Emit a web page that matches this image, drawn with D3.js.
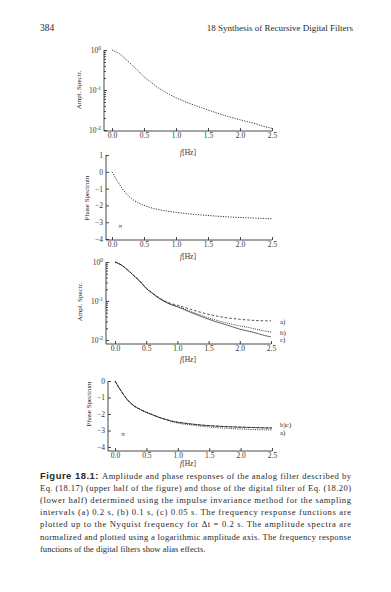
<!DOCTYPE html>
<html><head><meta charset="utf-8">
<script src="https://cdn.jsdelivr.net/npm/d3@7"></script>
<style>
html,body{margin:0;padding:0;background:#fff;}
svg{display:block;}
text{font-family:"Liberation Serif","DejaVu Serif",serif;fill:#2a2a2a;}
.axis path,.axis line{stroke:#333;stroke-width:0.9;fill:none;}
.axis text{font-family:"Liberation Serif",serif;font-size:7.5px;fill:#333;}
</style></head>
<body>
<script>
// ---------------- data ----------------
const freq = [0, 0.1, 0.2, 0.3, 0.4, 0.5, 0.6, 0.7, 0.8, 0.9, 1.0, 1.2, 1.4, 1.6, 1.8, 2.0, 2.2, 2.4, 2.5];
const analogAmp   = [1.0, 0.84, 0.62, 0.44, 0.31, 0.215, 0.16, 0.12, 0.095, 0.077, 0.064, 0.047, 0.036, 0.028, 0.022, 0.018, 0.015, 0.012, 0.011];
const analogPhase = [0, -0.65, -1.2, -1.58, -1.83, -2.0, -2.13, -2.23, -2.3, -2.36, -2.41, -2.5, -2.57, -2.63, -2.68, -2.72, -2.75, -2.78, -2.8];
const digAmpA = [1.0, 0.84, 0.63, 0.45, 0.32, 0.215, 0.16, 0.123, 0.1, 0.086, 0.078, 0.062, 0.05, 0.042, 0.037, 0.034, 0.032, 0.031, 0.031];
const digAmpB = [1.0, 0.84, 0.63, 0.45, 0.32, 0.21, 0.158, 0.12, 0.097, 0.082, 0.073, 0.055, 0.042, 0.033, 0.027, 0.023, 0.02, 0.017, 0.016];
const digAmpC = [1.0, 0.84, 0.63, 0.45, 0.32, 0.21, 0.157, 0.119, 0.096, 0.08, 0.071, 0.052, 0.039, 0.03, 0.024, 0.019, 0.016, 0.013, 0.012];
const digPhaseA = [0, -0.62, -1.15, -1.5, -1.72, -1.9, -2.05, -2.2, -2.33, -2.45, -2.55, -2.66, -2.75, -2.82, -2.87, -2.91, -2.94, -2.96, -2.97];
const digPhaseB = [0, -0.62, -1.15, -1.5, -1.72, -1.9, -2.05, -2.2, -2.32, -2.43, -2.5, -2.6, -2.68, -2.73, -2.77, -2.8, -2.82, -2.84, -2.85];
const digPhaseC = [0, -0.62, -1.15, -1.5, -1.72, -1.9, -2.05, -2.2, -2.32, -2.43, -2.5, -2.6, -2.68, -2.73, -2.77, -2.8, -2.82, -2.84, -2.85];
const xTicks = [0, 0.5, 1.0, 1.5, 2.0, 2.5];
const logTicks = [1, 0.1, 0.01];
const phaseTicks2 = [1, 0, -1, -2, -3, -4];
const phaseTicks4 = [0, -1, -2, -3, -4];
const headerLeft = "384";
const headerRight = "18 Synthesis of Recursive Digital Filters";
const ampTitle = "Ampl. Spectr.";
const phaseTitle = "Phase Spectrum";
const captionLines = [
  "Amplitude and phase responses of the analog filter described by",
  "Eq. (18.17) (upper half of the figure) and those of the digital filter of Eq. (18.20)",
  "(lower half) determined using the impulse invariance method for the sampling",
  "intervals (a) 0.2 s, (b) 0.1 s, (c) 0.05 s.  The frequency response functions are",
  "plotted up to the Nyquist frequency for \u0394t = 0.2 s.  The amplitude spectra are",
  "normalized and plotted using a logarithmic amplitude axis.  The frequency response",
  "functions of the digital filters show alias effects."
];

// ---------------- drawing ----------------
const svg = d3.select("body").append("svg").attr("width", 391).attr("height", 592);
svg.append("rect").attr("width", 391).attr("height", 592).attr("fill", "#fff");

svg.append("text").attr("x", 40).attr("y", 31).attr("font-size", 9.5).text(headerLeft);
svg.append("text").attr("x", 353).attr("y", 31).attr("font-size", 9).attr("text-anchor", "end").text(headerRight);

const fmtX = d3.format(".1f");
function supLabel(sel) {
  sel.each(function(d) {
    const t = d3.select(this); t.text(null);
    t.append("tspan").text("10");
    t.append("tspan").attr("dy", "-0.45em").attr("font-size", "5.5px").text(Math.round(Math.log10(d)));
  });
}

function panel(cfg) {
  const g = svg.append("g");
  const x = d3.scaleLinear().domain([0, 2.5]).range([cfg.x0, cfg.x1]);
  const y = cfg.log ? d3.scaleLog().domain([0.01, 1]).range([cfg.yBot, cfg.yTop])
                    : d3.scaleLinear().domain(cfg.ydom).range([cfg.yBot, cfg.yTop]);
  // x axis
  const xa = g.append("g").attr("class", "axis").attr("transform", `translate(0,${cfg.axisY})`)
    .call(d3.axisBottom(x).tickValues(xTicks).tickFormat(fmtX).tickSizeInner(-3).tickSizeOuter(0).tickPadding(2));
  xa.select(".domain").remove();
  xa.append("line").attr("x1", cfg.axisX).attr("x2", x(2.5)).attr("stroke", "#333").attr("stroke-width", 0.9);
  // y axis
  const yAx = d3.axisLeft(y).tickSizeInner(-3).tickSizeOuter(0).tickPadding(3);
  if (cfg.log) yAx.tickValues(logTicks); else yAx.tickValues(cfg.yticks).tickFormat(d3.format("d"));
  const ya = g.append("g").attr("class", "axis").attr("transform", `translate(${cfg.axisX},0)`).call(yAx);
  ya.select(".domain").remove();
  ya.append("line").attr("y1", cfg.yTop).attr("y2", cfg.axisY).attr("stroke", "#333").attr("stroke-width", 0.9);
  if (cfg.log) {
    ya.selectAll(".tick text").call(supLabel);
    const minors = [];
    [0.01, 0.1].forEach(b => { for (let k = 2; k <= 9; k++) minors.push(b * k); });
    const ma = g.append("g").attr("class", "axis").attr("transform", `translate(${cfg.axisX},0)`)
      .call(d3.axisLeft(y).tickValues(minors).tickFormat("").tickSizeInner(-2).tickSizeOuter(0));
    ma.select(".domain").remove();
  }
  // titles
  g.append("text").attr("x", 188).attr("y", cfg.fLabelY).attr("text-anchor", "middle").attr("font-size", 7.5)
    .html('<tspan font-style="italic">f</tspan>[Hz]');
  g.append("text").attr("transform", `translate(${cfg.titleX},${cfg.titleY}) rotate(-90)`)
    .attr("text-anchor", "middle").attr("font-size", 7).text(cfg.title);
  // curves
  const line = d3.line().x((d, i) => x(freq[i])).y(d => y(d)).curve(d3.curveMonotoneX);
  cfg.series.forEach(s => {
    g.append("path").attr("d", line(s.values)).attr("fill", "none").attr("stroke", "#222")
      .attr("stroke-width", s.w || 0.8).attr("stroke-dasharray", s.dash || null);
    if (s.label) g.append("text").attr("x", 280).attr("y", y(s.values[s.values.length - 1]) + s.ldy)
      .attr("font-size", 7).text(s.label);
  });
  return {x, y, g};
}

panel({x0: 112, x1: 272, yTop: 50, yBot: 130, axisX: 104, axisY: 131, log: true, fLabelY: 155,
  title: ampTitle, titleX: 81, titleY: 90,
  series: [{values: analogAmp, dash: "1.2,1.3", w: 0.9}]});

const p2 = panel({x0: 112, x1: 272, yTop: 155, yBot: 239, axisX: 106, axisY: 240, ydom: [-4, 1], yticks: phaseTicks2, fLabelY: 259,
  title: phaseTitle, titleX: 89, titleY: 198,
  series: [{values: analogPhase, dash: "1.2,1.3", w: 0.9}]});
p2.g.append("text").attr("x", p2.x(0.1)).attr("y", p2.y(-Math.PI) + 3).attr("font-size", 7).text("\u03c0");

panel({x0: 115, x1: 271, yTop: 262, yBot: 340, axisX: 106, axisY: 344, log: true, fLabelY: 362,
  title: ampTitle, titleX: 82, titleY: 302,
  series: [
    {values: digAmpA, dash: "2.5,2", w: 0.8, label: "a)", ldy: 3},
    {values: digAmpB, dash: "1,1.2", w: 0.9, label: "b)", ldy: 3},
    {values: digAmpC, w: 0.7, label: "c)", ldy: 5}
  ]});

const p4 = panel({x0: 115, x1: 272, yTop: 381, yBot: 447, axisX: 108, axisY: 451, ydom: [-4, 0], yticks: phaseTicks4, fLabelY: 466,
  title: phaseTitle, titleX: 91, titleY: 404,
  series: [
    {values: digPhaseA, dash: "1,1.2", w: 0.9, label: "a)", ldy: 5},
    {values: digPhaseB, dash: "2.5,2", w: 0.8, label: "b)c)", ldy: -1},
    {values: digPhaseC, w: 0.7}
  ]});
p4.g.append("text").attr("x", p4.x(0.1)).attr("y", p4.y(-Math.PI) + 3).attr("font-size", 7).text("\u03c0");

// caption
const cap = svg.append("g");
captionLines.forEach((ln, i) => {
  const t = cap.append("text").attr("x", 40).attr("y", 479 + i * 12.1).attr("font-size", 8.6);
  if (i === 0) {
    t.append("tspan").attr("font-family", "Liberation Sans, DejaVu Sans, sans-serif").attr("font-weight", "bold")
      .attr("font-size", 9.5).text("Figure 18.1: ");
  }
  t.append("tspan").text(ln);
  if (i < captionLines.length - 1) t.attr("textLength", 311).attr("lengthAdjust", "spacing");
});
</script>
</body></html>
